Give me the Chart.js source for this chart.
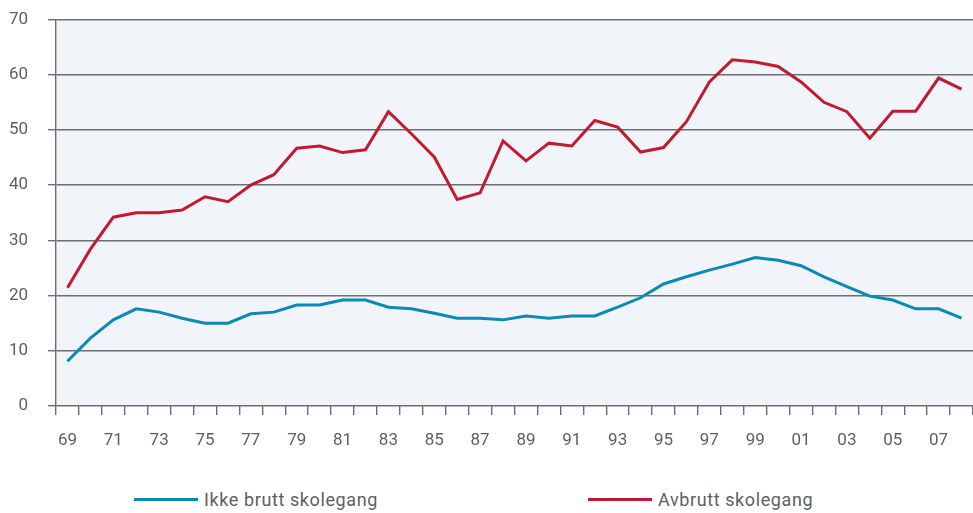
<!DOCTYPE html>
<html>
<head>
<meta charset="utf-8">
<script src="https://cdn.jsdelivr.net/npm/chart.js@4.4.0/dist/chart.umd.min.js"></script>
<style>
    body { margin: 0; background: #ffffff; font-family: Roboto, sans-serif; }
    #wrap { position: relative; width: 973px; height: 513px; }
    #chart-box { position: absolute; left: 0; top: 0; width: 973px; height: 460px; }
    .legend-item { position: absolute; top: 487px; height: 24px; display: flex; align-items: center; color: #5f6062; font-size: 18px; letter-spacing: 0.6px; }
    .legend-line { width: 64px; height: 3px; margin-right: 6px; }
</style>
</head>
<body>
<div id="wrap">
    <div id="chart-box"><canvas id="skoleChart"></canvas></div>
    <div class="legend-item" style="left: 134px;"><span class="legend-line" style="background:#0b8ab8"></span>Ikke brutt skolegang</div>
    <div class="legend-item" style="left: 588px;"><span class="legend-line" style="background:#c21a30"></span>Avbrutt skolegang</div>
</div>
<script>
// Dados
const years = ['69','70','71','72','73','74','75','76','77','78','79','80','81','82','83','84','85','86','87','88',
               '89','90','91','92','93','94','95','96','97','98','99','00','01','02','03','04','05','06','07','08'];

const ikkeBrutt = [8.1, 12.3, 15.6, 17.6, 17.0, 15.9, 15.0, 15.0, 16.7, 17.0,
                   18.3, 18.3, 19.2, 19.2, 17.9, 17.6, 16.8, 15.9, 15.9, 15.6,
                   16.3, 15.9, 16.3, 16.3, 17.9, 19.6, 22.1, 23.4, 24.6, 25.7,
                   26.9, 26.4, 25.4, 23.4, 21.6, 19.9, 19.2, 17.6, 17.6, 15.9];

const avbrutt = [21.4, 28.4, 34.2, 35.0, 35.0, 35.5, 37.9, 37.0, 40.0, 41.9,
                 46.7, 47.1, 45.9, 46.4, 53.3, 49.3, 45.1, 37.4, 38.6, 48.0,
                 44.4, 47.6, 47.1, 51.7, 50.5, 46.0, 46.8, 51.5, 58.7, 62.7,
                 62.3, 61.5, 58.7, 55.0, 53.3, 48.5, 53.4, 53.4, 59.4, 57.4];

const yTicks = [0, 10, 20, 30, 40, 50, 60, 70];

const gridColor = '#6d6e71';
const textColor = '#5f6062';

// fundo da área do gráfico
const areaBg = {
    id: 'areaBg',
    beforeDraw(chart) {
        const { ctx, chartArea } = chart;
        ctx.save();
        ctx.fillStyle = '#f1f5f9';
        ctx.fillRect(chartArea.left, chartArea.top, chartArea.right - chartArea.left, chartArea.bottom - chartArea.top);
        ctx.restore();
    }
};

new Chart(document.getElementById('skoleChart'), {
    type: 'line',
    data: {
        labels: years,
        datasets: [
            {
                label: 'Ikke brutt skolegang',
                data: ikkeBrutt,
                borderColor: '#0b8ab8',
                borderWidth: 3,
                pointRadius: 0,
                tension: 0
            },
            {
                label: 'Avbrutt skolegang',
                data: avbrutt,
                borderColor: '#c21a30',
                borderWidth: 3,
                pointRadius: 0,
                tension: 0
            }
        ]
    },
    options: {
        responsive: true,
        maintainAspectRatio: false,
        animation: false,
        layout: { padding: 0 },
        plugins: { legend: { display: false }, tooltip: { enabled: false } },
        scales: {
            x: {
                offset: true,
                grid: { offset: true, drawOnChartArea: false, color: gridColor, lineWidth: 1.4, tickLength: 9 },
                border: { display: false },
                ticks: {
                    color: textColor,
                    font: { family: 'Roboto', size: 17 },
                    padding: 16,
                    autoSkip: false,
                    maxRotation: 0,
                    callback: function (val, i) { return i % 2 === 0 ? this.getLabelForValue(val) : ''; }
                },
                afterFit: (scale) => {
                    scale.height = 54;
                    scale.paddingLeft = 0;
                    scale.paddingRight = 0;
                }
            },
            y: {
                min: 0,
                max: 70,
                afterBuildTicks: (scale) => { scale.ticks = yTicks.map(v => ({ value: v })); },
                grid: { color: gridColor, lineWidth: 1.4, tickLength: 8 },
                border: { display: true, color: gridColor, width: 1.4 },
                ticks: { color: textColor, font: { family: 'Roboto', size: 17 }, padding: 20 },
                afterFit: (scale) => {
                    scale.width = 56;
                    scale.paddingTop = 19.5;
                    scale.paddingBottom = 10;
                }
            }
        }
    },
    plugins: [areaBg]
});
</script>
</body>
</html>
